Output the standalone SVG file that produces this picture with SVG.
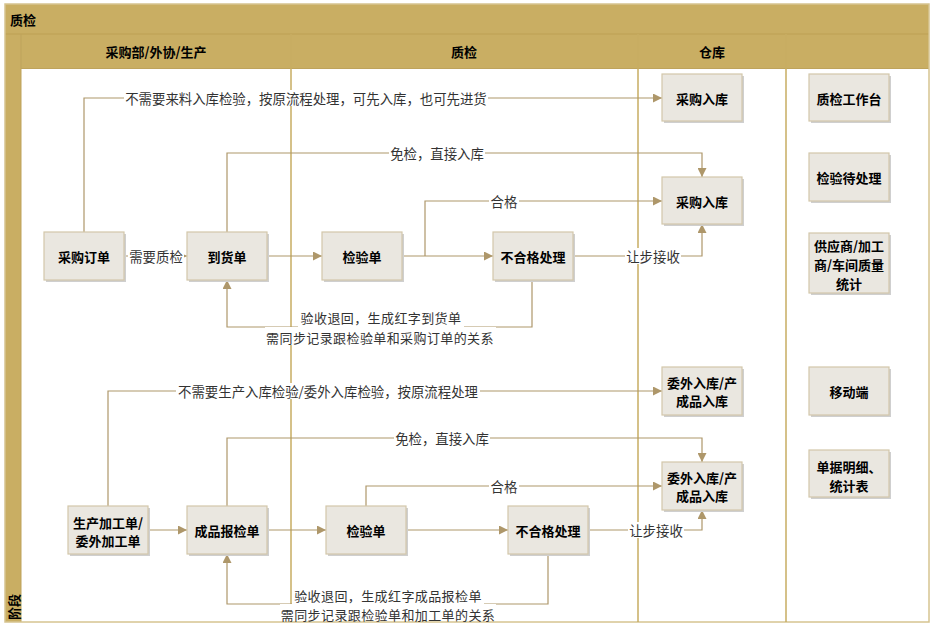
<svg xmlns="http://www.w3.org/2000/svg" width="934" height="630" viewBox="0 0 934 630">
<style>
.pool{fill:#C9AE63}
.lane{stroke:#C7AC62;stroke-width:1.5;fill:none}
.node rect.b{fill:#EAE7E0;stroke:#D3C7AA;stroke-width:1.2}
.node rect.s{fill:#CFCFCF}
.nt{font-family:"Noto Sans CJK SC","Noto Sans",sans-serif;font-size:13px;font-weight:bold;fill:#000;text-anchor:middle;dominant-baseline:central}
.ht{font-family:"Noto Sans CJK SC","Noto Sans",sans-serif;font-size:13px;font-weight:bold;fill:#000;dominant-baseline:central}
.lt{font-family:"Noto Sans CJK SC","Noto Sans",sans-serif;font-size:13.4px;fill:#333;text-anchor:middle;dominant-baseline:central}
.lt2{font-family:"Noto Sans CJK SC","Noto Sans",sans-serif;font-size:13px;fill:#333;text-anchor:middle;dominant-baseline:central;letter-spacing:0.4px}
.lb{fill:#fff}
.c{stroke:#AE976A;stroke-width:1.2;fill:none}
</style>
<defs>
<marker id="ah" viewBox="0 0 10 10" refX="10" refY="5" markerWidth="9" markerHeight="9" markerUnits="userSpaceOnUse" orient="auto">
<path d="M0,0 L10,5 L0,10 z" fill="#AE976A"/>
</marker>
</defs>
<rect x="0" y="0" width="934" height="630" fill="#fff"/>
<g id="pool">
<rect class="pool" x="5" y="4" width="924" height="64"/>
<rect class="pool" x="5" y="34" width="16" height="588"/>
<rect x="21" y="68" width="908" height="554" fill="#fff"/>
<line x1="5" y1="34" x2="929" y2="34" stroke="#BE9F55" stroke-width="1.2"/>
<line x1="21" y1="68.5" x2="929" y2="68.5" stroke="#BEA35C" stroke-width="1.2"/>
<line x1="21" y1="34" x2="21" y2="622" stroke="#BEA35C" stroke-width="1"/>
<rect x="5" y="4" width="924" height="618" fill="none" stroke="#D6C490" stroke-width="1.5"/>
<line class="lane" x1="291" y1="34" x2="291" y2="622"/>
<line class="lane" x1="638" y1="34" x2="638" y2="622"/>
<line class="lane" x1="786" y1="34" x2="786" y2="622"/>
<text class="ht" x="10" y="19">质检</text>
<text class="ht" x="156" y="51" text-anchor="middle">采购部/外协/生产</text>
<text class="ht" x="464" y="51" text-anchor="middle">质检</text>
<text class="ht" x="712" y="51" text-anchor="middle">仓库</text>
<text class="ht" transform="translate(13.5,607) rotate(-90)" text-anchor="middle">阶段</text>
</g>
<g id="connectors">
<path class="c" d="M84,232 V98 H662" marker-end="url(#ah)"/>
<path class="c" d="M124,256 H187" marker-end="url(#ah)"/>
<path class="c" d="M227,232 V153 H702 V177" marker-end="url(#ah)"/>
<path class="c" d="M267,256 H322" marker-end="url(#ah)"/>
<path class="c" d="M402,256 H493" marker-end="url(#ah)"/>
<path class="c" d="M425,256 V201 H662" marker-end="url(#ah)"/>
<path class="c" d="M572,256 H702 V224" marker-end="url(#ah)"/>
<path class="c" d="M532,280 V327 H227 V280" marker-end="url(#ah)"/>
<path class="c" d="M108,506 V391 H662" marker-end="url(#ah)"/>
<path class="c" d="M148,530 H187" marker-end="url(#ah)"/>
<path class="c" d="M227,506 V438 H702 V462" marker-end="url(#ah)"/>
<path class="c" d="M267,530 H326" marker-end="url(#ah)"/>
<path class="c" d="M366,506 V486 H662" marker-end="url(#ah)"/>
<path class="c" d="M406,530 H508" marker-end="url(#ah)"/>
<path class="c" d="M588,530 H702 V510" marker-end="url(#ah)"/>
<path class="c" d="M548,554 V604 H227 V554" marker-end="url(#ah)"/>
<g id="labels">
<rect class="lb" x="124" y="90" width="364" height="16"/>
<text class="lt" x="306" y="98">不需要来料入库检验，按原流程处理，可先入库，也可先进货</text>
<rect class="lb" x="128" y="248" width="56" height="16"/>
<text class="lt" x="156" y="256">需要质检</text>
<rect class="lb" x="389" y="145" width="96" height="16"/>
<text class="lt" x="437" y="153">免检，直接入库</text>
<rect class="lb" x="489" y="193" width="30" height="16"/>
<text class="lt" x="504" y="201">合格</text>
<rect class="lb" x="625" y="248" width="56" height="16"/>
<text class="lt" x="653" y="256">让步接收</text>
<rect class="lb" x="298" y="309" width="166" height="18"/>
<rect class="lb" x="265" y="327" width="231" height="18"/>
<text class="lt2" x="381" y="317">验收退回，生成红字到货单</text>
<text class="lt2" x="380" y="337">需同步记录跟检验单和采购订单的关系</text>
<rect class="lb" x="176" y="383" width="304" height="16"/>
<text class="lt" x="328" y="391">不需要生产入库检验/委外入库检验，按原流程处理</text>
<rect class="lb" x="394" y="430" width="96" height="16"/>
<text class="lt" x="442" y="438">免检，直接入库</text>
<rect class="lb" x="489" y="478" width="30" height="16"/>
<text class="lt" x="504" y="486">合格</text>
<rect class="lb" x="628" y="522" width="56" height="16"/>
<text class="lt" x="656" y="530">让步接收</text>
<rect class="lb" x="292" y="586" width="192" height="18"/>
<rect class="lb" x="280" y="604" width="216" height="17"/>
<text class="lt2" x="388" y="595">验收退回，生成红字成品报检单</text>
<text class="lt2" x="388" y="614">需同步记录跟检验单和加工单的关系</text>
</g>
</g>
<g id="n-cgdd" class="node"><rect class="s" x="46" y="234" width="80" height="48"/><rect class="b" x="44" y="232" width="80" height="48"/><text class="nt" x="84" y="256">采购订单</text></g>
<g id="n-dhd" class="node"><rect class="s" x="189" y="234" width="80" height="48"/><rect class="b" x="187" y="232" width="80" height="48"/><text class="nt" x="227" y="256">到货单</text></g>
<g id="n-jyd1" class="node"><rect class="s" x="324" y="234" width="80" height="48"/><rect class="b" x="322" y="232" width="80" height="48"/><text class="nt" x="362" y="256">检验单</text></g>
<g id="n-bhg1" class="node"><rect class="s" x="495" y="234" width="80" height="48"/><rect class="b" x="493" y="232" width="80" height="48"/><text class="nt" x="533" y="256">不合格处理</text></g>
<g id="n-cgrk1" class="node"><rect class="s" x="664" y="76" width="80" height="47"/><rect class="b" x="662" y="74" width="80" height="47"/><text class="nt" x="702" y="98">采购入库</text></g>
<g id="n-cgrk2" class="node"><rect class="s" x="664" y="179" width="80" height="47"/><rect class="b" x="662" y="177" width="80" height="47"/><text class="nt" x="702" y="201">采购入库</text></g>
<g id="n-zjgzt" class="node"><rect class="s" x="811" y="76" width="80" height="47"/><rect class="b" x="809" y="74" width="80" height="47"/><text class="nt" x="849" y="98">质检工作台</text></g>
<g id="n-jydcl" class="node"><rect class="s" x="811" y="155" width="80" height="48"/><rect class="b" x="809" y="153" width="80" height="48"/><text class="nt" x="849" y="177">检验待处理</text></g>
<g id="n-gys" class="node"><rect class="s" x="811" y="235" width="80" height="60"/><rect class="b" x="809" y="233" width="80" height="60"/><text class="nt" x="849" y="245">供应商/加工</text><text class="nt" x="849" y="264">商/车间质量</text><text class="nt" x="849" y="283">统计</text></g>
<g id="n-ydd" class="node"><rect class="s" x="811" y="369" width="80" height="48"/><rect class="b" x="809" y="367" width="80" height="48"/><text class="nt" x="849" y="391">移动端</text></g>
<g id="n-djmx" class="node"><rect class="s" x="811" y="452" width="80" height="47"/><rect class="b" x="809" y="450" width="80" height="47"/><text class="nt" x="849" y="466">单据明细、</text><text class="nt" x="849" y="485">统计表</text></g>
<g id="n-scjgd" class="node"><rect class="s" x="70" y="508" width="80" height="48"/><rect class="b" x="68" y="506" width="80" height="48"/><text class="nt" x="108" y="522">生产加工单/</text><text class="nt" x="108" y="540">委外加工单</text></g>
<g id="n-cpbjd" class="node"><rect class="s" x="189" y="508" width="80" height="48"/><rect class="b" x="187" y="506" width="80" height="48"/><text class="nt" x="227" y="530">成品报检单</text></g>
<g id="n-jyd2" class="node"><rect class="s" x="328" y="508" width="80" height="48"/><rect class="b" x="326" y="506" width="80" height="48"/><text class="nt" x="366" y="530">检验单</text></g>
<g id="n-bhg2" class="node"><rect class="s" x="510" y="508" width="80" height="48"/><rect class="b" x="508" y="506" width="80" height="48"/><text class="nt" x="548" y="530">不合格处理</text></g>
<g id="n-wwrk1" class="node"><rect class="s" x="664" y="369" width="80" height="48"/><rect class="b" x="662" y="367" width="80" height="48"/><text class="nt" x="702" y="382">委外入库/产</text><text class="nt" x="702" y="400">成品入库</text></g>
<g id="n-wwrk2" class="node"><rect class="s" x="664" y="464" width="80" height="48"/><rect class="b" x="662" y="462" width="80" height="48"/><text class="nt" x="702" y="477">委外入库/产</text><text class="nt" x="702" y="495">成品入库</text></g>
</svg>
